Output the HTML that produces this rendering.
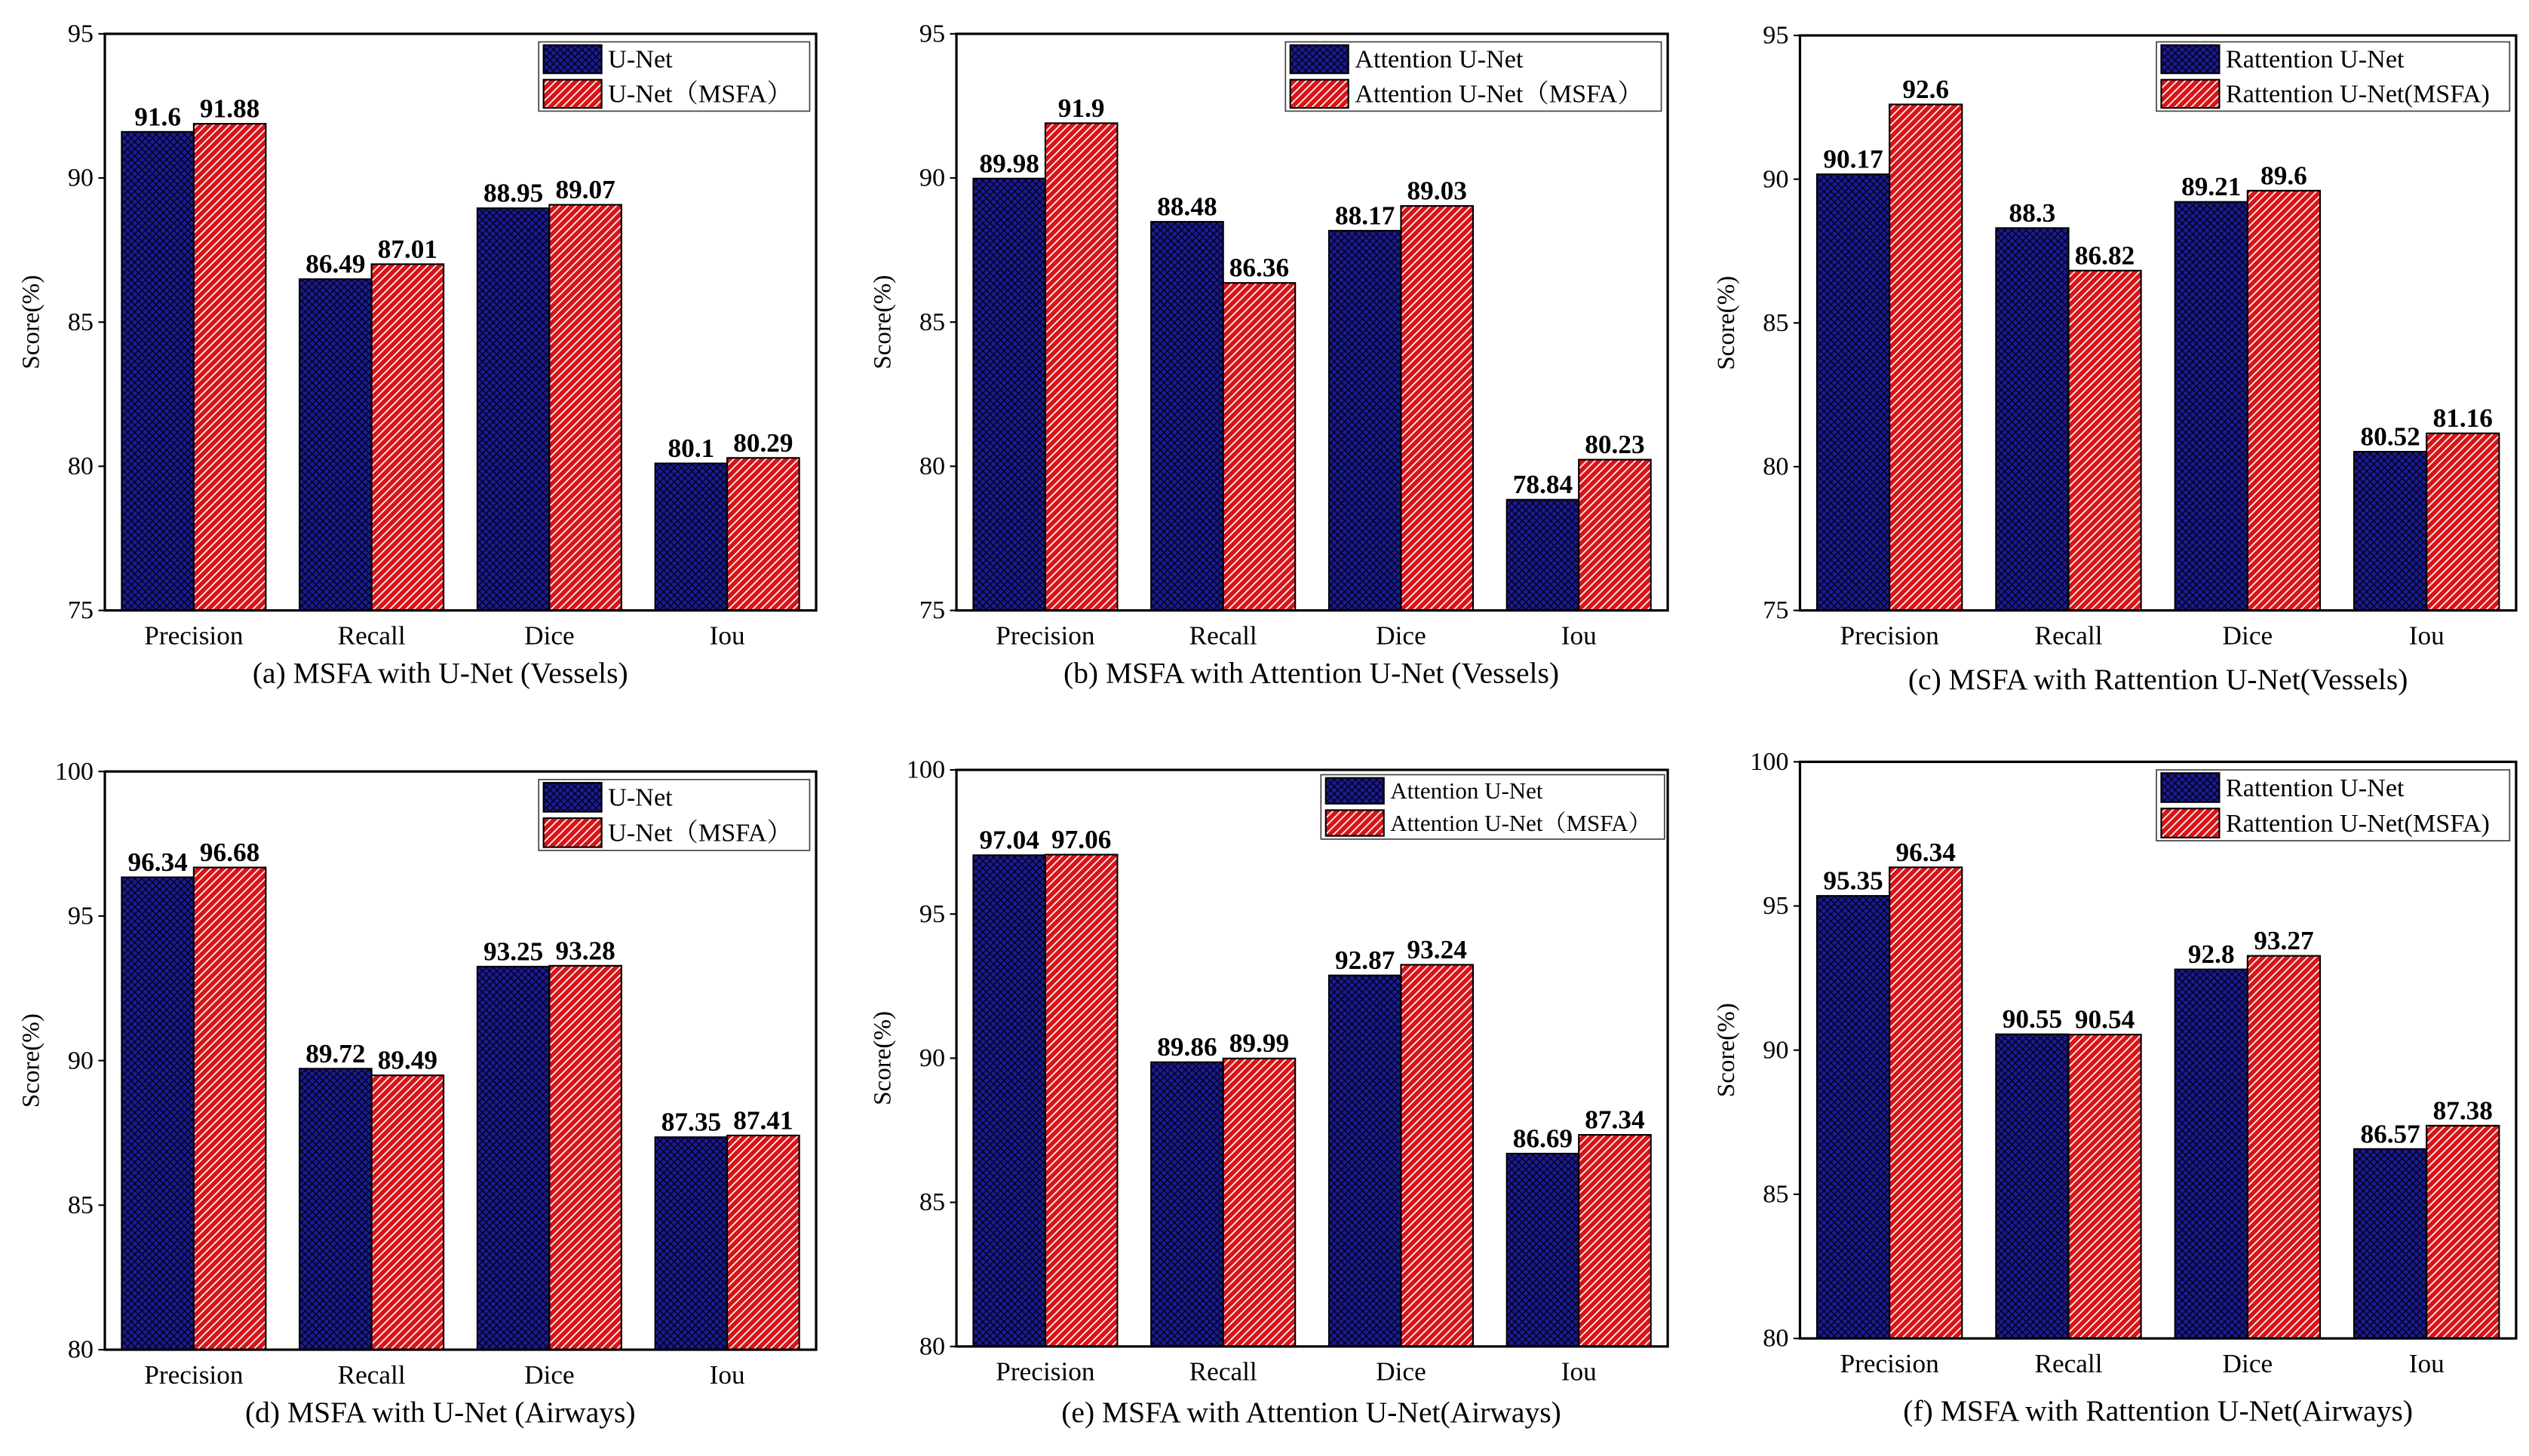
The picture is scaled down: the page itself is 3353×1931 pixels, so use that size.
<!DOCTYPE html>
<html><head><meta charset="utf-8"><style>
html,body{margin:0;padding:0;background:#fff;}
svg{display:block;font-family:"Liberation Serif","Noto Serif CJK SC",serif;}
</style></head><body>
<svg id="fig" width="3353" height="1931" viewBox="0 0 1568 904" preserveAspectRatio="none" xmlns="http://www.w3.org/2000/svg">
<defs>
<pattern id="pCross" patternUnits="userSpaceOnUse" width="4.4" height="4.4">
<rect width="4.4" height="4.4" fill="#1a1a98"/>
<path d="M0,0 L4.4,4.4 M4.4,0 L0,4.4" stroke="#000" stroke-width="0.6"/>
</pattern>
<pattern id="pDiag" patternUnits="userSpaceOnUse" width="5" height="5">
<rect width="5" height="5" fill="#d81418"/>
<path d="M-1,6 L6,-1 M-1,1 L1,-1 M4,6 L6,4" stroke="#fff" stroke-width="0.8"/>
</pattern>
</defs>
</svg>
<script>
const categories = ["Precision","Recall","Dice","Iou"];
const baseA = [91.6,86.49,88.95,80.1];
const msfaA = [91.88,87.01,89.07,80.29];
const baseB = [89.98,88.48,88.17,78.84];
const msfaB = [91.9,86.36,89.03,80.23];
const baseC = [90.17,88.3,89.21,80.52];
const msfaC = [92.6,86.82,89.6,81.16];
const baseD = [96.34,89.72,93.25,87.35];
const msfaD = [96.68,89.49,93.28,87.41];
const baseE = [97.04,89.86,92.87,86.69];
const msfaE = [97.06,89.99,93.24,87.34];
const baseF = [95.35,90.55,92.8,86.57];
const msfaF = [96.34,90.54,93.27,87.38];
const ticksTop = [75,80,85,90,95];
const ticksBottom = [80,85,90,95,100];
const baseLabelsA = ["91.6","86.49","88.95","80.1"];
const msfaLabelsA = ["91.88","87.01","89.07","80.29"];
const baseLabelsB = ["89.98","88.48","88.17","78.84"];
const msfaLabelsB = ["91.9","86.36","89.03","80.23"];
const baseLabelsC = ["90.17","88.3","89.21","80.52"];
const msfaLabelsC = ["92.6","86.82","89.6","81.16"];
const baseLabelsD = ["96.34","89.72","93.25","87.35"];
const msfaLabelsD = ["96.68","89.49","93.28","87.41"];
const baseLabelsE = ["97.04","89.86","92.87","86.69"];
const msfaLabelsE = ["97.06","89.99","93.24","87.34"];
const baseLabelsF = ["95.35","90.55","92.8","86.57"];
const msfaLabelsF = ["96.34","90.54","93.27","87.38"];

const NS="http://www.w3.org/2000/svg";
const svg=document.getElementById('fig');
function mk(tag,attrs,parent){const e=document.createElementNS(NS,tag);for(const k in attrs)e.setAttribute(k,attrs[k]);(parent||svg).appendChild(e);return e;}

const panels=[
 {id:'a',x0:65,x1:506,y0:21,y1:379,ticks:ticksTop,base:baseA,msfa:msfaA,bl:baseLabelsA,ml:msfaLabelsA,leg:[334,26,502,69],legFs:16,n1:"U-Net",n2:"U-Net（MSFA）",cap:"(a) MSFA with U-Net (Vessels)",capY:424,capX:273},
 {id:'b',x0:593,x1:1034,y0:21,y1:379,ticks:ticksTop,base:baseB,msfa:msfaB,bl:baseLabelsB,ml:msfaLabelsB,leg:[797,26,1030,69],legFs:16,n1:"Attention U-Net",n2:"Attention U-Net（MSFA）",cap:"(b) MSFA with Attention U-Net (Vessels)",capY:424,capX:813},
 {id:'c',x0:1116,x1:1560,y0:22,y1:379,ticks:ticksTop,base:baseC,msfa:msfaC,bl:baseLabelsC,ml:msfaLabelsC,leg:[1337,26,1556,69],legFs:16,n1:"Rattention U-Net",n2:"Rattention U-Net(MSFA)",cap:"(c)  MSFA with Rattention U-Net(Vessels)",capY:428,capX:1338},
 {id:'d',x0:65,x1:506,y0:479,y1:838,ticks:ticksBottom,base:baseD,msfa:msfaD,bl:baseLabelsD,ml:msfaLabelsD,leg:[334,484,502,528],legFs:16,n1:"U-Net",n2:"U-Net（MSFA）",cap:"(d) MSFA with U-Net (Airways)",capY:883,capX:273},
 {id:'e',x0:593,x1:1034,y0:478,y1:836,ticks:ticksBottom,base:baseE,msfa:msfaE,bl:baseLabelsE,ml:msfaLabelsE,leg:[819,481,1032,521],legFs:14.5,n1:"Attention U-Net",n2:"Attention U-Net（MSFA）",cap:"(e)  MSFA with Attention U-Net(Airways)",capY:883,capX:813},
 {id:'f',x0:1116,x1:1560,y0:473,y1:831,ticks:ticksBottom,base:baseF,msfa:msfaF,bl:baseLabelsF,ml:msfaLabelsF,leg:[1337,478,1556,522],legFs:16,n1:"Rattention U-Net",n2:"Rattention U-Net(MSFA)",cap:"(f)  MSFA with Rattention U-Net(Airways)",capY:882,capX:1338}
];

panels.forEach(p=>{
 const g=mk('g',{});
 
 
 const lo=p.ticks[0],hi=p.ticks[p.ticks.length-1];
 const ys=v=>p.y1-(v-lo)/(hi-lo)*(p.y1-p.y0);
 const slot=(p.x1-p.x0)/categories.length;
 const bw=slot*0.405;
 const xc=i=>p.x0+slot*(i+0.5);
 p.ticks.forEach(t=>{
  const tl=mk('line',{x1:p.x0-4,x2:p.x0,y1:ys(t),y2:ys(t),stroke:'#000','stroke-width':1},g);
  
  
  const tx=mk('text',{x:p.x0-7,y:ys(t)+5,'text-anchor':'end','font-size':16},g);
  tx.textContent=t;
  
  
 });
 const yt=mk('text',{x:0,y:0,'text-anchor':'middle','font-size':15.5,transform:`translate(${p.x0-41},${(p.y0+p.y1)/2}) rotate(-90)`},g);
 yt.textContent='Score(%)';
 
 
 categories.forEach((c,i)=>{
  const vb=p.base[i],vm=p.msfa[i];
  const r1=mk('rect',{x:xc(i)-bw,y:ys(vb),width:bw,height:p.y1-ys(vb),fill:'url(#pCross)',stroke:'#000','stroke-width':1},g);
  
  
  const r2=mk('rect',{x:xc(i),y:ys(vm),width:bw,height:p.y1-ys(vm),fill:'url(#pDiag)',stroke:'#000','stroke-width':1},g);
  
  
  const l1=mk('text',{x:xc(i)-bw/2,y:ys(vb)-4,'text-anchor':'middle','font-size':16.5,'font-weight':'bold'},g);
  l1.textContent=p.bl[i];
  
  
  const l2=mk('text',{x:xc(i)+bw/2,y:ys(vm)-4,'text-anchor':'middle','font-size':16.5,'font-weight':'bold'},g);
  l2.textContent=p.ml[i];
  
  
  const cl=mk('text',{x:xc(i),y:p.y1+21,'text-anchor':'middle','font-size':16.5},g);
  cl.textContent=c;
  
  
 });
 const fr=mk('rect',{x:p.x0,y:p.y0,width:p.x1-p.x0,height:p.y1-p.y0,fill:'none',stroke:'#000','stroke-width':1.5},g);
 
 
 const [lx0,ly0,lx1,ly1]=p.leg;
 const lg=mk('g',{},g);
 
 
 mk('rect',{x:lx0,y:ly0,width:lx1-lx0,height:ly1-ly0,fill:'#fff',stroke:'#444','stroke-width':0.8},lg);
 const h=(ly1-ly0)/2;
 [[p.n1,'url(#pCross)'],[p.n2,'url(#pDiag)']].forEach((e,k)=>{
  const sw=mk('rect',{x:lx0+3,y:ly0+2+k*h,width:36,height:h-4,fill:e[1],stroke:'#000','stroke-width':1},lg);
  
  
  const t=mk('text',{x:lx0+43,y:ly0+k*h+h*0.74,'font-size':p.legFs},lg);
  t.textContent=e[0];
  
  
 });
 const cap=mk('text',{x:p.capX,y:p.capY,'text-anchor':'middle','font-size':18.5},g);
 cap.textContent=p.cap;
 
 
});
</script>
</body></html>
